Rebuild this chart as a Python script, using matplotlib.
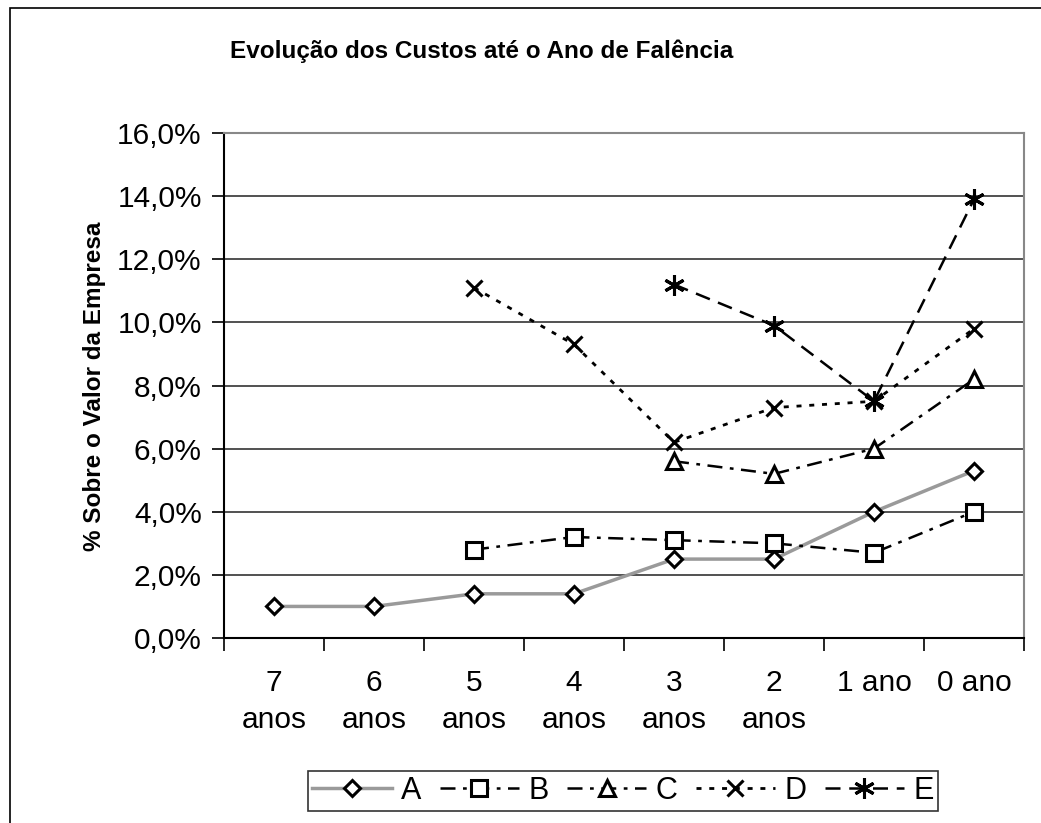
import matplotlib
matplotlib.use("Agg")
import matplotlib.pyplot as plt
import numpy as np
from matplotlib.patches import Rectangle
from matplotlib.ticker import FuncFormatter, FixedLocator

plt.rcParams['font.family'] = ['Liberation Sans', 'DejaVu Sans']

# data (percent of firm value)
categorias = ["7\nanos", "6\nanos", "5\nanos", "4\nanos", "3\nanos", "2\nanos", "1 ano", "0 ano"]
serie_a = [1.0, 1.0, 1.4, 1.4, 2.5, 2.5, 4.0, 5.3]
serie_b = [None, None, 2.8, 3.2, 3.1, 3.0, 2.7, 4.0]
serie_c = [None, None, None, None, 5.6, 5.2, 6.0, 8.2]
serie_d = [None, None, 11.1, 9.3, 6.2, 7.3, 7.5, 9.8]
serie_e = [None, None, None, None, 11.2, 9.9, 7.5, 13.9]
nomes = ["A", "B", "C", "D", "E"]

def to_arr(v):
    return np.array([np.nan if x is None else x for x in v], dtype=float)

fig = plt.figure(figsize=(10.41, 8.23), dpi=100)
# outer chart frame
fig.patches.append(Rectangle((10 / 1041, -0.1), 1.2, 1 - 8 / 823 + 0.1,
                             transform=fig.transFigure, fill=False,
                             edgecolor='black', linewidth=1.2))

ax = fig.add_axes([224 / 1041, 1 - 638 / 823, 800 / 1041, 505 / 823])
x = np.arange(len(categorias))

estilos = [
    dict(color='#9a9a9a', linestyle='-', linewidth=2.5, marker='D', markersize=8),
    dict(color='black', linestyle=(0, (6, 3, 1.5, 3)), linewidth=1.8, marker='s', markersize=11),
    dict(color='black', linestyle=(0, (6, 3, 1.5, 3)), linewidth=1.8, marker='^', markersize=11),
    dict(color='black', linestyle=(0, (1.8, 2.8)), linewidth=2.0, marker='x', markersize=11),
    dict(color='black', linestyle=(0, (6, 3.5)), linewidth=1.8, marker=(6, 2, 0), markersize=15),
]
series = [serie_a, serie_b, serie_c, serie_d, serie_e]
for s, st, nome in zip(series, estilos, nomes):
    ax.plot(x, to_arr(s), label=nome, markerfacecolor='white', markeredgecolor='black',
            markeredgewidth=2.2, **st)

ax.set_xlim(-0.5, len(categorias) - 0.5)
ax.set_ylim(0, 16)
ax.set_yticks(np.arange(0, 16.1, 2))
ax.yaxis.set_major_formatter(FuncFormatter(lambda v, p: f"{v:.1f}%".replace('.', ',')))
ax.grid(axis='y', color='#222222', linewidth=1.1)
ax.set_axisbelow(True)

ax.set_xticks(x)
ax.set_xticklabels(categorias, fontsize=21.5, linespacing=1.45, va='top')
ax.xaxis.set_minor_locator(FixedLocator(np.arange(-0.5, len(categorias), 1)))
ax.tick_params(axis='x', which='major', length=0, pad=22)
ax.tick_params(axis='x', which='minor', length=9, width=1.2, direction='out')
ax.tick_params(axis='y', length=9, width=1.2, direction='out', labelsize=21.5, pad=7)

for lado in ['top', 'right']:
    ax.spines[lado].set_color('#888888')
    ax.spines[lado].set_linewidth(1.5)
for lado in ['left', 'bottom']:
    ax.spines[lado].set_color('black')
    ax.spines[lado].set_linewidth(1.5)

fig.text(482 / 1041, 1 - 51 / 823, "Evolução dos Custos até o Ano de Falência",
         ha='center', va='center', fontsize=17.5, fontweight='bold')
fig.text(95 / 1041, 1 - 386 / 823, "% Sobre o Valor da Empresa", rotation=90,
         ha='center', va='center', fontsize=17.5, fontweight='bold')

leg = fig.legend(loc='center', bbox_to_anchor=(623 / 1041, 1 - 791 / 823), ncol=5,
                 fontsize=22, frameon=True, fancybox=False, handlelength=2.6,
                 handletextpad=0.3, columnspacing=0.6, borderpad=0.15)
leg.get_frame().set_edgecolor('black')
leg.get_frame().set_linewidth(1.2)

fig.savefig("out.png", dpi=100)
